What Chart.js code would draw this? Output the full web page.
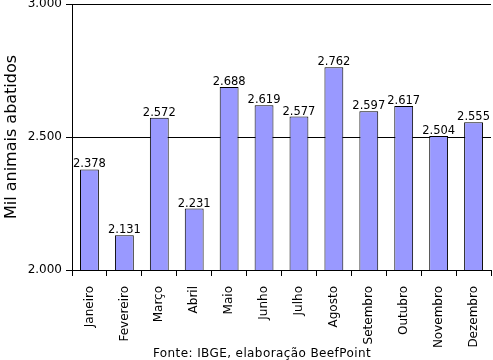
<!DOCTYPE html>
<html>
<head>
<meta charset="utf-8">
<script src="https://cdn.jsdelivr.net/npm/chart.js@4/dist/chart.umd.min.js"></script>
<style>
html,body{margin:0;padding:0;background:#fff;}
#wrap{width:493px;height:360px;position:relative;}
</style>
</head>
<body>
<div id="wrap"><canvas id="c" width="493" height="360"></canvas></div>
<script>
const categories = ["Janeiro","Fevereiro","Março","Abril","Maio","Junho","Julho","Agosto","Setembro","Outubro","Novembro","Dezembro"];
const abates = [2378, 2131, 2572, 2231, 2688, 2619, 2577, 2762, 2597, 2617, 2504, 2555];
const yTicks = [2000, 2500, 3000];
const yTitle = "Mil animais abatidos";
const footerText = "Fonte: IBGE, elaboração BeefPoint";

const FONT = "'DejaVu Sans', Verdana, sans-serif";
function fmt(v){
  const s = String(Math.round(v));
  return s.replace(/\B(?=(\d{3})+(?!\d))/g, ".");
}

const labelPlugin = {
  id: 'barLabels',
  afterDatasetsDraw(chart){
    const ctx = chart.ctx;
    const meta = chart.getDatasetMeta(0);
    ctx.save();
    ctx.font = "11.5px " + FONT;
    ctx.fillStyle = "#000";
    ctx.textAlign = "center";
    ctx.textBaseline = "alphabetic";
    meta.data.forEach((bar, i) => {
      ctx.fillText(fmt(chart.data.datasets[0].data[i]), bar.x, bar.y - 2);
    });
    ctx.restore();
  }
};

const footerPlugin = {
  id: 'footerText',
  afterDraw(chart){
    const ctx = chart.ctx;
    ctx.save();
    ctx.font = "12px " + FONT;
    ctx.fillStyle = "#000";
    ctx.textAlign = "center";
    ctx.textBaseline = "alphabetic";
    if ('letterSpacing' in ctx) ctx.letterSpacing = "0.4px";
    ctx.fillText(footerText, 262, 357);
    ctx.restore();
  }
};

new Chart(document.getElementById('c'), {
  type: 'bar',
  data: {
    labels: categories,
    datasets: [{
      data: abates,
      backgroundColor: '#9999FF',
      borderColor: '#000',
      borderWidth: 1,
      borderSkipped: 'bottom',
      barPercentage: 0.54,
      categoryPercentage: 1.0
    }]
  },
  options: {
    responsive: false,
    animation: false,
    devicePixelRatio: 1,
    layout: { padding: { top: 4, right: 2, left: 0, bottom: 0 } },
    plugins: { legend: { display: false }, tooltip: { enabled: false }, title: { display: false } },
    scales: {
      x: {
        offset: true,
        grid: { display: true, drawOnChartArea: false, offset: true, color: '#000', tickLength: 6, lineWidth: 1 },
        border: { display: true, color: '#000', width: 1 },
        ticks: { color: '#000', font: { family: FONT, size: 12 }, maxRotation: 90, minRotation: 90, padding: 10, autoSkip: false },
        afterFit(scale){ scale.height = 90; scale.paddingLeft = 0; scale.paddingRight = 0; }
      },
      y: {
        min: 2000, max: 3000,
        afterBuildTicks(scale){ scale.ticks = yTicks.map(v => ({ value: v })); },
        grid: { display: true, drawOnChartArea: true, color: '#000', tickLength: 6, lineWidth: 1 },
        border: { display: true, color: '#000', width: 1 },
        ticks: { color: '#000', font: { family: FONT, size: 12 }, padding: 4, callback: (v) => fmt(v) },
        title: { display: true, text: yTitle, color: '#000', font: { family: FONT, size: 16 }, padding: { top: 2, bottom: 0 } },
        afterFit(scale){ scale.width = 72; scale.paddingTop = 0; scale.paddingBottom = 0; }
      }
    }
  },
  plugins: [labelPlugin, footerPlugin]
});
</script>
</body>
</html>
